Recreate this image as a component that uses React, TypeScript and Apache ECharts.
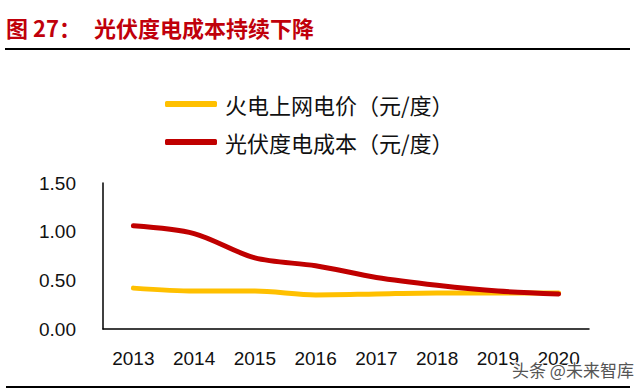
import React, { useEffect, useRef } from "react";
import * as echarts from "echarts";

const years = ["2013", "2014", "2015", "2016", "2017", "2018", "2019", "2020"];
const thermalPrice = [0.42, 0.39, 0.39, 0.35, 0.36, 0.37, 0.37, 0.37];
const pvCost = [1.06, 0.98, 0.73, 0.65, 0.53, 0.45, 0.39, 0.36];
const seriesNames = ["火电上网电价（元/度）", "光伏度电成本（元/度）"];
const titleLabel = "图 27：";
const titleText = "光伏度电成本持续下降";
const watermark = "头条 @未来智库";

export default function App() {
  const ref = useRef<HTMLDivElement>(null);
  useEffect(() => {
    if (!ref.current) return;
    const chart = echarts.init(ref.current, null, { renderer: "svg" });
    chart.setOption({
      animation: false,
      backgroundColor: "#ffffff",
      grid: { left: 103, right: 51, top: 183, bottom: 61 },
      legend: {
        orient: "vertical",
        left: 160,
        top: 87,
        itemWidth: 52,
        itemHeight: 6,
        itemGap: 14,
        icon: "roundRect",
        textStyle: {
          fontFamily: "Noto Sans CJK SC",
          fontSize: 22,
          color: "#111",
          lineHeight: 24,
          padding: [0, 0, 0, 3],
        },
        data: seriesNames,
      },
      xAxis: {
        type: "category",
        data: years,
        boundaryGap: true,
        axisLine: { lineStyle: { color: "#000", width: 1.5 } },
        axisTick: { inside: true, length: 6, lineStyle: { color: "#000", width: 1.5 } },
        axisLabel: {
          margin: 20,
          fontFamily: "Liberation Sans",
          fontSize: 19,
          color: "#111",
        },
      },
      yAxis: {
        type: "value",
        min: 0,
        max: 1.5,
        interval: 0.5,
        splitLine: { show: false },
        axisLine: { show: true, lineStyle: { color: "#000", width: 1.5 } },
        axisTick: { show: false },
        axisLabel: {
          margin: 27,
          fontFamily: "Liberation Sans",
          fontSize: 19,
          color: "#111",
          formatter: (v: number) => v.toFixed(2),
        },
      },
      series: [
        {
          name: seriesNames[0],
          type: "line",
          data: thermalPrice,
          smooth: 0.3,
          symbol: "none",
          lineStyle: { color: "#FFC000", width: 5, cap: "round" },
          itemStyle: { color: "#FFC000" },
          z: 2,
        },
        {
          name: seriesNames[1],
          type: "line",
          data: pvCost,
          smooth: 0.3,
          symbol: "none",
          lineStyle: { color: "#C00000", width: 5, cap: "round" },
          itemStyle: { color: "#C00000" },
          z: 3,
        },
      ],
      graphic: [
        {
          type: "text",
          left: 6,
          top: 16,
          style: {
            text: titleLabel,
            font: "bold 22px 'Noto Sans CJK SC'",
            fill: "#C0000B",
          },
        },
        {
          type: "text",
          left: 94,
          top: 16,
          style: {
            text: titleText,
            font: "bold 22px 'Noto Sans CJK SC'",
            fill: "#C0000B",
          },
        },
        {
          type: "rect",
          shape: { x: 5, y: 48, width: 625, height: 2 },
          style: { fill: "#000" },
        },
        {
          type: "rect",
          shape: { x: 6, y: 386, width: 624, height: 2 },
          style: { fill: "#000" },
        },
        {
          type: "text",
          left: 511,
          top: 360,
          z: 100,
          style: {
            text: watermark,
            font: "17px 'Noto Sans CJK SC'",
            fill: "#555",
            stroke: "#fff",
            lineWidth: 2,
          },
        },
      ],
    });
    return () => chart.dispose();
  }, []);
  return (
    <div
      ref={ref}
      style={{ position: "fixed", left: 0, top: 0, width: 640, height: 390 }}
    />
  );
}
